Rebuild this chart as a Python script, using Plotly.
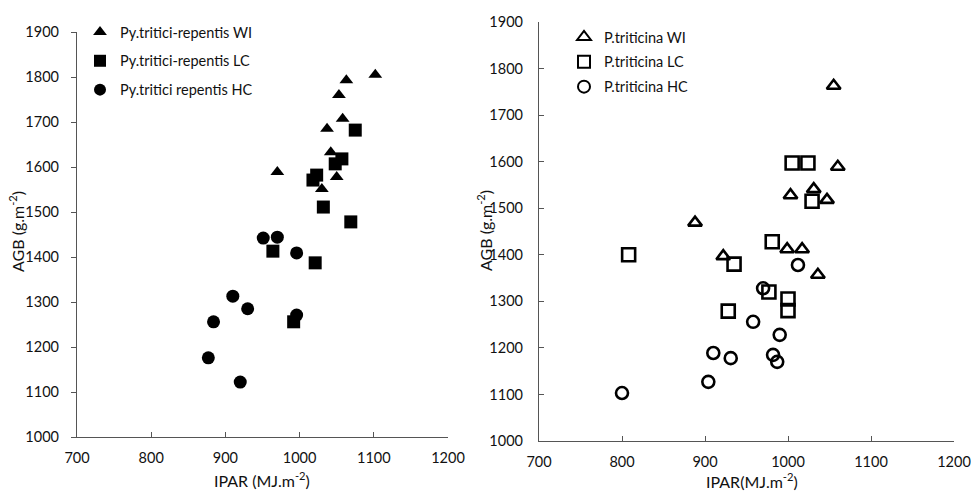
import plotly.graph_objects as go

# ---- Left panel: Py. tritici-repentis ----
ptr_wi_x = [1102, 1063, 1053, 1058, 1037, 1042, 970, 1050, 1030]
ptr_wi_y = [1805, 1793, 1760, 1707, 1685, 1633, 1589, 1578, 1551]
ptr_lc_x = [1075, 1057, 1048, 1023, 1018, 1032, 1069, 964, 1021, 992]
ptr_lc_y = [1682, 1618, 1607, 1582, 1571, 1511, 1478, 1413, 1387, 1256]
ptr_hc_x = [951, 970, 996, 930, 996, 910, 884, 877, 920]
ptr_hc_y = [1442, 1444, 1409, 1285, 1271, 1313, 1256, 1176, 1122]

# ---- Right panel: P. triticina ----
pt_wi_x = [1055, 1060, 1031, 1003, 1047, 888, 922, 999, 1017, 1036]
pt_wi_y = [1763, 1589, 1541, 1528, 1518, 1469, 1397, 1412, 1412, 1357]
pt_lc_x = [1005, 1024, 1029, 981, 808, 935, 977, 1000, 1000, 928]
pt_lc_y = [1597, 1597, 1515, 1428, 1400, 1380, 1320, 1305, 1280, 1279]
pt_hc_x = [1012, 970, 958, 990, 910, 931, 982, 987, 904, 800]
pt_hc_y = [1378, 1328, 1256, 1228, 1189, 1178, 1185, 1170, 1127, 1103]

x_ticks = [700, 800, 900, 1000, 1100, 1200]
y_ticks = [1000, 1100, 1200, 1300, 1400, 1500, 1600, 1700, 1800, 1900]

left_names = ["Py.tritici-repentis WI", "Py.tritici-repentis LC", "Py.tritici repentis HC"]
right_names = ["P.triticina WI", "P.triticina LC", "P.triticina HC"]

FONT = "Lato, Open Sans, sans-serif"
TXT = "#111111"
AX = "#555555"

fig = go.Figure()

left_series = [(ptr_wi_x, ptr_wi_y, "triangle-up", 12),
               (ptr_lc_x, ptr_lc_y, "square", 13),
               (ptr_hc_x, ptr_hc_y, "circle", 13)]
for (xs, ys, sym, sz), name in zip(left_series, left_names):
    fig.add_trace(go.Scatter(x=xs, y=ys, mode="markers", name=name,
                             legend="legend", legendgroup=name,
                             marker=dict(symbol=sym, size=sz, color="black",
                                         line=dict(width=0)),
                             xaxis="x", yaxis="y"))

right_series = [(pt_wi_x, pt_wi_y, "triangle-up-open", 12),
                (pt_lc_x, pt_lc_y, "square-open", 13),
                (pt_hc_x, pt_hc_y, "circle-open", 12)]
for (xs, ys, sym, sz), name in zip(right_series, right_names):
    fig.add_trace(go.Scatter(x=xs, y=ys, mode="markers", name=name,
                             legend="legend2", legendgroup=name,
                             marker=dict(symbol=sym, size=sz, color="black",
                                         line=dict(width=2.6, color="black")),
                             xaxis="x2", yaxis="y2"))

W, H = 971, 491

def px(v):
    return v / W

def py(v):
    return 1 - v / H

common_x = dict(range=[700, 1200], tickvals=x_ticks, showgrid=False, zeroline=False,
                showline=True, linecolor=AX, linewidth=1.2, ticks="inside", ticklen=5,
                tickcolor=AX, ticklabelstandoff=7,
                tickfont=dict(family=FONT, size=14.5, color=TXT))
common_y = dict(range=[1000, 1900], tickvals=y_ticks, showgrid=False, zeroline=False,
                showline=True, linecolor=AX, linewidth=1.2, ticklen=5,
                tickcolor=AX, tickfont=dict(family=FONT, size=14.5, color=TXT))

fig.update_layout(
    width=W, height=H,
    margin=dict(l=0, r=0, t=0, b=0, autoexpand=False),
    paper_bgcolor="white", plot_bgcolor="white",
    font=dict(family=FONT, color=TXT),
    xaxis=dict(domain=[px(77), px(448)], anchor="y", **common_x),
    yaxis=dict(domain=[py(437), py(32)], anchor="x", ticks="outside",
               ticklabelstandoff=9, **common_y),
    xaxis2=dict(domain=[px(539), px(954)], anchor="y2", **common_x),
    yaxis2=dict(domain=[py(441), py(22)], anchor="x2", ticks="inside",
                ticklabelstandoff=12, **common_y),
    legend=dict(x=px(80), y=py(16), xanchor="left", yanchor="top",
                bgcolor="rgba(0,0,0,0)", borderwidth=0, tracegroupgap=7,
                font=dict(family=FONT, size=14.5, color=TXT), itemsizing="constant"),
    legend2=dict(x=px(564), y=py(21), xanchor="left", yanchor="top",
                 bgcolor="rgba(0,0,0,0)", borderwidth=0, tracegroupgap=3,
                 font=dict(family=FONT, size=14.5, color=TXT), itemsizing="constant"),
    showlegend=True,
)

ann = [
    dict(text="AGB (g.m<sup>-2</sup>)", x=px(17), y=py(232), textangle=-90),
    dict(text="AGB (g.m<sup>-2</sup>)", x=px(484), y=py(231), textangle=-90),
    dict(text="IPAR (MJ.m<sup>-2</sup>)", x=px(262), y=py(479), textangle=0),
    dict(text="IPAR(MJ.m<sup>-2</sup>)", x=px(752), y=py(480), textangle=0),
]
for a in ann:
    fig.add_annotation(xref="paper", yref="paper", showarrow=False,
                       xanchor="center", yanchor="middle",
                       font=dict(family=FONT, size=16, color=TXT), **a)

fig.write_html("out.html", config={"displayModeBar": False},
               post_script="document.body.style.margin='0px';document.body.style.overflow='hidden';")
